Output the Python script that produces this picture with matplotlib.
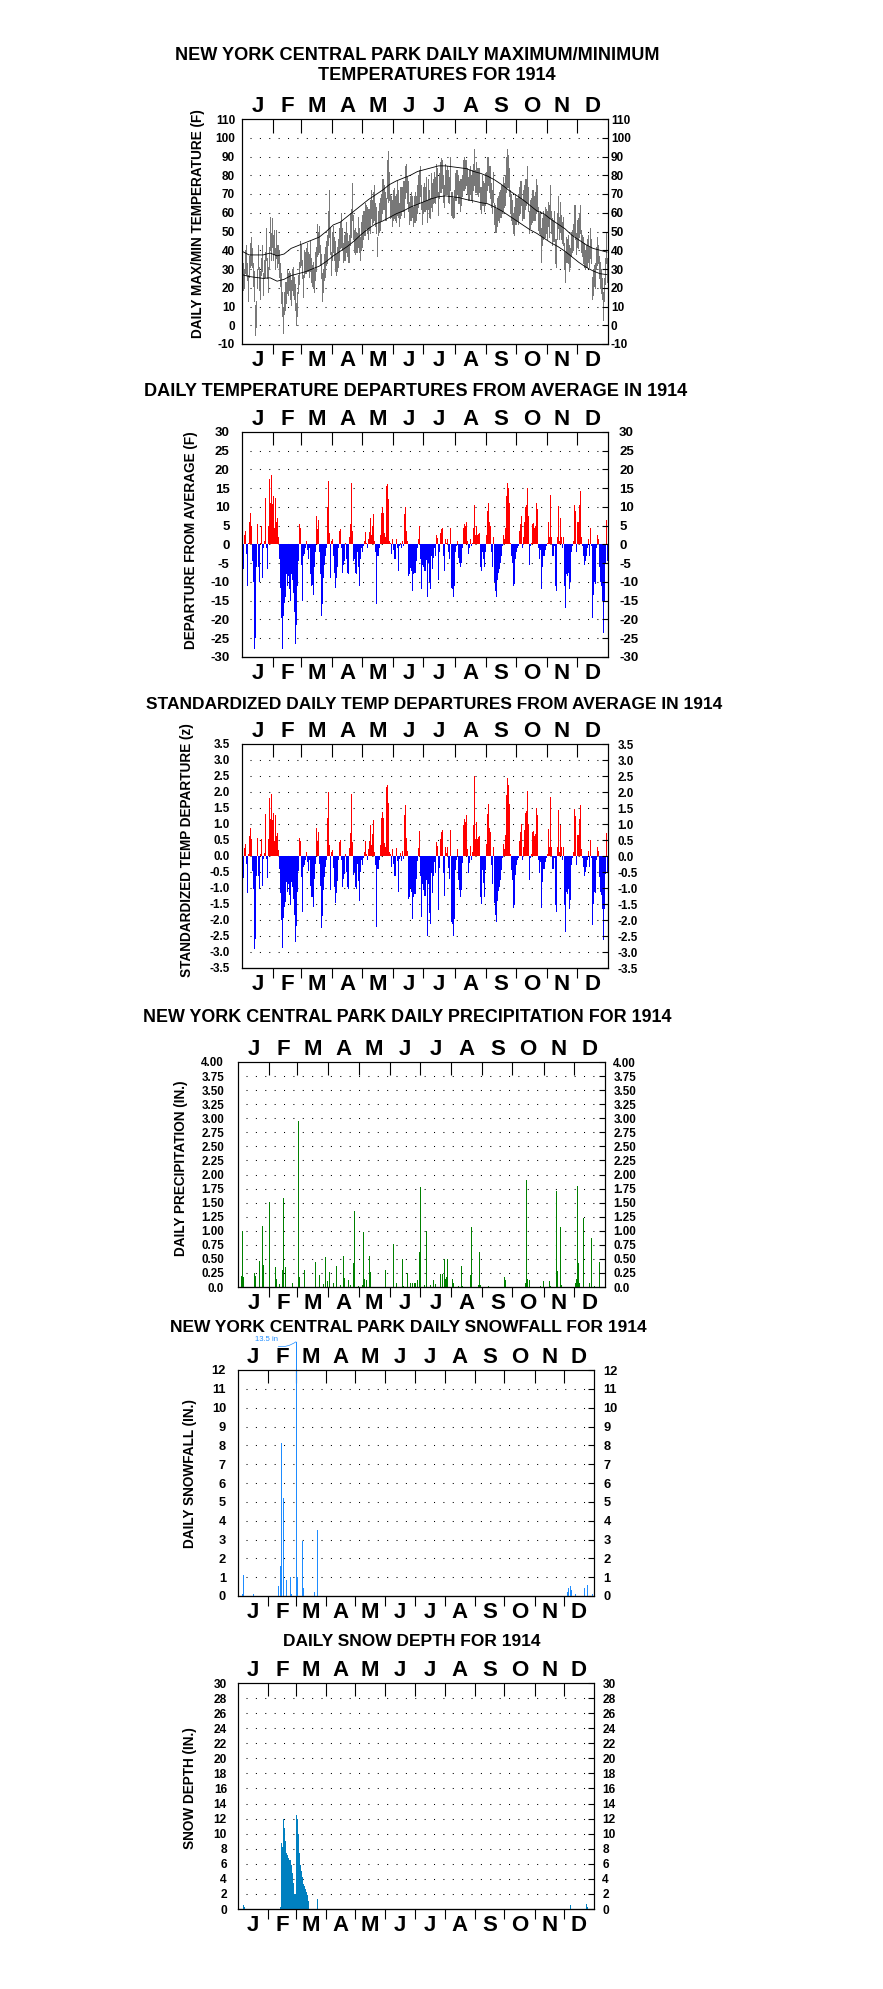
import matplotlib
matplotlib.use("Agg")
import matplotlib.pyplot as plt
import numpy as np

plt.rcParams['font.family'] = ['Liberation Sans', 'DejaVu Sans']

W, H = 883, 1989

month_starts = [0, 31, 59, 90, 120, 151, 181, 212, 243, 273, 304, 334, 365]
month_letters = ["J", "F", "M", "A", "M", "J", "J", "A", "S", "O", "N", "D"]

# daily max / min temperatures (F), Jan 1 .. Dec 31
tmax = [33,30,40,43,33,27,37,44,47,41,33,29,11,13,30,43,31,29,36,43,28,35,39,52,36,31,42,58,49,57,48,
        51,41,51,43,43,40,33,28,18,10,18,23,23,30,28,29,28,24,30,31,26,22,12,18,27,34,45,43,
        35,27,40,39,41,44,39,38,45,36,32,34,30,39,42,54,50,53,43,38,28,30,38,42,45,48,61,72,52,39,50,
        53,47,45,38,42,46,52,55,60,52,44,48,50,55,49,45,48,60,62,76,59,51,52,50,49,58,52,47,55,59,
        61,61,65,64,63,62,62,67,72,67,71,75,65,63,47,61,65,68,70,78,78,75,71,68,88,93,82,70,69,67,72,
        73,69,70,77,72,65,74,74,74,77,77,85,86,79,77,66,69,71,69,63,69,71,69,75,80,83,85,75,66,74,
        76,74,79,67,78,72,68,81,76,78,82,79,86,84,71,81,87,89,88,80,75,86,83,85,83,79,90,71,71,68,72,
        81,83,83,80,77,78,78,80,88,90,88,88,84,79,83,85,80,83,86,94,83,87,84,84,84,74,74,80,77,76,81,
        82,90,90,85,85,76,72,82,65,64,62,68,69,71,72,75,75,79,76,80,90,94,91,84,72,70,67,60,63,70,
        68,68,70,74,77,77,67,72,75,78,78,85,74,61,67,68,72,72,69,71,78,75,63,60,61,52,57,61,59,63,62,
        61,66,64,75,61,57,56,61,46,46,60,69,58,66,59,55,58,44,39,47,46,48,43,41,50,51,54,64,64,49,
        56,57,60,64,51,48,47,44,40,43,46,48,42,52,46,26,30,32,33,42,47,43,37,34,30,25,18,25,36,49,36]
tmin = [19,20,28,27,24,13,26,31,32,31,21,13,-5,-1,20,30,19,14,27,29,16,25,26,35,25,18,30,40,35,42,35,
        38,30,36,31,33,26,21,12,5,-4,6,8,12,17,16,19,14,11,19,16,14,8,0,5,17,22,31,32,
        25,15,26,28,28,29,29,26,29,23,21,20,18,24,29,37,38,39,32,25,13,18,24,26,32,33,43,47,38,27,35,
        39,35,29,27,29,31,35,41,42,40,34,35,35,39,37,34,34,43,47,56,46,39,38,39,39,42,39,35,40,42,
        46,48,48,52,49,46,51,49,57,54,55,56,53,49,37,48,50,51,56,60,62,62,56,56,68,66,67,57,58,53,56,
        57,56,55,59,58,53,57,59,61,61,58,68,71,65,61,54,56,56,58,53,55,55,56,60,63,65,69,62,54,60,
        61,61,62,55,62,58,57,63,61,65,66,65,69,69,59,68,71,71,73,66,63,70,70,70,66,65,72,59,58,57,58,
        67,67,70,65,65,61,64,69,72,72,73,75,70,67,67,70,67,66,72,75,71,71,70,69,71,62,60,64,64,61,64,
        66,72,75,71,68,63,60,66,54,50,50,53,56,55,58,58,60,61,63,64,71,74,74,69,60,56,54,49,48,54,
        54,56,54,59,60,64,56,57,57,62,64,66,61,49,52,54,55,56,56,56,60,61,51,49,48,34,43,46,47,47,49,
        46,53,47,57,49,43,45,45,33,31,46,52,46,50,46,44,43,30,23,34,34,33,29,31,37,39,40,48,46,38,
        42,41,47,49,39,37,33,31,30,31,31,34,31,36,33,14,16,21,20,30,32,33,25,20,17,14,3,13,22,33,23]

# normal max / min, read every 7th day
norm_days = list(range(0, 365, 7))
norm_max = [39.5,37.5,37.5,37.5,38.5,37,38,41,42.5,44,45.5,47,50,53.5,55,58,61,64,67,69.5,72,75,77,78.5,80,82,
            83,84,85,85,84.5,84,83.5,82,81,79.5,77.5,75,72,69.5,67,64,61,59.5,56.5,54,51.5,48,45.5,43,41,40,39]
norm_min = [27,26,25.5,25,25.3,23.5,24.5,26.5,27.5,28.5,30,31.5,34,37,39.5,42,45,48.5,51.5,54,55.5,57.5,59.5,61,63,64.5,
            66,67.5,68.5,69,68.5,68,67,66.3,65.4,64.8,63,61,58.5,56,53.5,51,49,46.5,44,42,39.5,36.5,33.5,31,29,27.5,27]

# departure from average (F)
departure = [-5.5,-6.5,2.5,3.5,-2.5,-11,0.5,6,8.5,5,-4.5,-10,-28,-25,-6,5.5,-6,-10,0.5,5,-9,-1,1,12.5,-1,-6.5,5,17.5,11,18.5,10.8,
             13,4.5,12.5,6,7,2,-4,-11.5,-19.5,-28,-19,-15.5,-14,-8,-11,-8.5,-12,-15,-8,-9.5,-13,-18,-26.5,-21.5,-11,-4.5,5.5,4.5,
             -5.5,-15,-3,-2.5,-1,1,-1.5,-4,-1,-8,-11,-10.8,-13.5,-6,-2,7.5,4,6.5,-2,-8,-19,-16,-9,-5.5,-3,-1,10,17,3,-9,1,
             1.5,-3,-7.5,-11.5,-9,-6,-1,3.5,4,-1,-7.5,-5.5,-4.3,0.5,-4,-7.5,-8,2,5.5,16.5,3.5,-4.5,-4,-7.5,-8,-2,-6,-11,-4,-1,
             -2,-0.5,1,3.3,0.5,-1,1.5,3.3,7,2.5,5,8,1,-2,-16,-3,-3,-1,2.5,8.5,10,8.5,3,2,15.5,16,12,1,0.5,-2.5,1.5,
             -1.5,-4,-4,1.5,-1,-7,-0.5,0.5,-1,1,-0.5,8,10,3.5,1,-8.5,-8,-6.3,-7,-12.5,-8,-7.5,-7.5,-4.5,-1,1.5,5,-4,-12,-5.5,
             -6,-7,-4.2,-14,-5,-10,-12,-3,-6.5,-3.5,-1,-3,2.5,1.8,-9.5,-2,3,4.2,4.5,-3,-7,1.5,0.5,1.5,-2,-4,4.5,-11.5,-12,-14,-11,
             -2,-0.5,1,-3.5,-5,-6,-5,-1,4.5,5.5,5,6,1,-2.5,-1,1.5,-0.5,0.5,4.5,10.5,2.5,5,2.5,2.8,3,-6,-7,-2,-4,-6,-2,
             2.5,9,11,6,5,-2,-6,2,-10,-12.5,-14,-9.5,-7.5,-6.5,-5,-3,-0.5,2.5,1.5,4.5,13,16.5,15,11,0.5,-3,-5,-11,-10.5,-4,
             -2,-1,-0.5,3.5,5.5,7.5,-1,2,6,10,10.5,15,7.5,-5.5,-0.5,0.5,5.5,5.7,4.5,5,11,9.5,-1,-4,-1.5,-12,-6,-3,-3,-1.5,-0.5,
             0.5,6,2,13.3,2,-3,-3,-0.5,-11,-12.5,2,10.3,1,7,2,-1,2,-11,-17,-8,-8.5,-7.5,-12,-10,-2,-0.5,1,10.5,9,-2,
             6,6,10.5,14.3,2,-0.5,-3,-5.5,-4.5,-3,-1,1.5,-3,4.5,-0.5,-19.5,-13.5,-10,-10.5,-1,2.5,1.5,-6,-10,-11,-15,-23.5,-15,-5,6.5,-4.5]

# standardized departure (z)
zscore = [-0.57,-0.68,0.26,0.36,-0.26,-1.15,0.05,0.63,0.89,0.52,-0.47,-1.04,-2.92,-2.6,-0.63,0.57,-0.63,-1.04,0.05,0.52,-0.94,-0.1,0.1,1.3,-0.1,-0.68,0.52,1.82,1.15,1.93,1.13,
          1.33,0.46,1.28,0.61,0.71,0.2,-0.41,-1.17,-1.99,-2.86,-1.94,-1.58,-1.43,-0.82,-1.12,-0.87,-1.22,-1.53,-0.82,-0.97,-1.33,-1.84,-2.7,-2.19,-1.12,-0.46,0.56,0.46,
          -0.65,-1.76,-0.35,-0.29,-0.12,0.12,-0.18,-0.47,-0.12,-0.94,-1.29,-1.27,-1.59,-0.71,-0.24,0.88,0.47,0.76,-0.24,-0.94,-2.24,-1.88,-1.06,-0.65,-0.35,-0.12,1.18,2.0,0.35,-1.06,0.12,
          0.19,-0.38,-0.96,-1.47,-1.15,-0.77,-0.13,0.45,0.51,-0.13,-0.96,-0.71,-0.55,0.06,-0.51,-0.96,-1.03,0.26,0.71,1.95,0.45,-0.58,-0.51,-0.96,-1.03,-0.26,-0.77,-1.41,-0.51,-0.13,
          -0.28,-0.07,0.14,0.46,0.07,-0.14,0.21,0.46,0.97,0.35,0.69,1.11,0.14,-0.28,-2.22,-0.42,-0.42,-0.14,0.35,1.18,1.39,1.18,0.42,0.28,2.15,2.22,1.67,0.14,0.07,-0.35,0.21,
          -0.24,-0.63,-0.63,0.24,-0.16,-1.11,-0.08,0.08,-0.16,0.16,-0.08,1.27,1.59,0.56,0.16,-1.35,-1.27,-1.0,-1.11,-1.98,-1.27,-1.19,-1.19,-0.71,-0.16,0.24,0.79,-0.63,-1.9,-0.87,
          -1.07,-1.25,-0.75,-2.5,-0.89,-1.79,-2.14,-0.54,-1.16,-0.63,-0.18,-0.54,0.45,0.32,-1.7,-0.36,0.54,0.75,0.8,-0.54,-1.25,0.27,0.09,0.27,-0.36,-0.71,0.8,-2.05,-2.14,-2.5,-1.96,
          -0.43,-0.11,0.21,-0.74,-1.06,-1.28,-1.06,-0.21,0.96,1.17,1.06,1.28,0.21,-0.53,-0.21,0.32,-0.11,0.11,0.96,2.5,0.53,1.06,0.53,0.6,0.64,-1.28,-1.49,-0.43,-0.85,-1.28,-0.43,
          0.37,1.32,1.62,0.88,0.74,-0.29,-0.88,0.29,-1.47,-1.84,-2.06,-1.4,-1.1,-0.96,-0.74,-0.44,-0.07,0.37,0.22,0.66,1.91,2.43,2.21,1.62,0.07,-0.44,-0.74,-1.62,-1.54,-0.59,
          -0.27,-0.14,-0.07,0.47,0.74,1.01,-0.14,0.27,0.81,1.35,1.42,2.03,1.01,-0.74,-0.07,0.07,0.74,0.77,0.61,0.68,1.49,1.28,-0.14,-0.54,-0.2,-1.62,-0.81,-0.41,-0.41,-0.2,-0.07,
          0.07,0.83,0.28,1.85,0.28,-0.42,-0.42,-0.07,-1.53,-1.74,0.28,1.43,0.14,0.97,0.28,-0.14,0.28,-1.53,-2.36,-1.11,-1.18,-1.04,-1.67,-1.39,-0.28,-0.07,0.14,1.46,1.25,-0.28,
          0.67,0.67,1.17,1.59,0.22,-0.06,-0.33,-0.61,-0.5,-0.33,-0.11,0.17,-0.33,0.5,-0.06,-2.17,-1.5,-1.11,-1.17,-0.11,0.28,0.17,-0.67,-1.11,-1.22,-1.67,-2.61,-1.67,-0.56,0.72,-0.5]

# precipitation (in.), only days with a value
precip_days = [2,3,4,15,16,20,23,24,30,36,37,40,43,44,46,53,59,60,65,76,80,84,86,88,90,94,97,101,104,105,
               109,111,114,115,119,123,124,125,127,130,131,146,154,157,163,164,168,171,173,175,176,178,180,181,184,186,190,193,195,200,
               202,204,205,206,207,212,213,218,221,222,230,231,238,239,240,248,264,265,285,286,287,289,300,303,309,310,316,317,320,321,
               335,336,337,338,339,343,349,351,354,359]
precip_in = [0.2,1.0,0.17,0.25,0.2,0.47,1.08,0.4,1.52,0.35,0.15,0.05,0.3,1.58,0.35,0.07,2.95,0.17,0.3,0.45,
             0.22,0.06,0.53,0.1,0.27,0.07,0.37,0.03,0.55,0.16,0.13,0.04,0.42,1.35,0.02,0.04,0.97,0.15,0.13,0.55,
             0.27,0.3,0.76,0.08,0.5,0.02,0.25,0.08,0.08,0.07,0.08,0.13,0.62,1.78,0.03,1.0,0.04,0.13,0.06,0.23,
             0.23,0.5,0.15,0.17,0.5,0.15,0.07,0.02,0.37,0.02,0.22,1.06,0.03,0.63,0.04,0.02,0.18,0.13,0.08,1.9,
             0.15,0.12,0.02,0.1,0.11,0.02,1.7,0.28,1.07,0.04,0.07,0.15,1.8,0.42,0.07,1.22,0.08,0.87,0.02,0.45]

# snowfall (in.)
snow_days = [4,5,15,40,43,44,46,49,53,54,59,60,65,66,77,80,337,338,340,341,345,354,357,362]
snow_in = [0.1,1.1,0.1,0.55,1.6,8.1,5.2,0.85,1.0,0.1,13.5,1.0,2.9,0.4,0.2,3.5,0.2,0.4,0.55,0.3,0.1,0.4,0.6,0.1]

# snow depth (in.)
depth_days = [5,6,43,44,45,46,47,48,49,50,51,52,53,54,55,56,57,58,59,60,61,62,63,64,65,66,67,68,69,70,71,72,81,340,357,358]
depth_in = [0.5,0.2,0.3,8.8,8.2,12,10.7,9,7.5,7.2,6.8,6.5,6.5,5.8,4.8,3.5,2,2,12.5,13,
            12,10,7.5,5.8,5,4.2,3.3,3,2.7,2.3,1.8,1,1.3,0.5,0.6,0.3]

days = np.arange(365)

fig = plt.figure(figsize=(W / 100, H / 100), dpi=100)


def make_panel(box, ymin, ymax, step, labels, fs, lpad, rpad, ylabel, ylab_x, ylab_y, top_len=9.5):
    x0, y0, x1, y1 = box
    ax = fig.add_axes([x0 / W, 1 - y1 / H, (x1 - x0) / W, (y1 - y0) / H])
    ticks = np.arange(ymin, ymax + step / 2, step)

    # right side labels on a twin axis so the pad can differ
    ax2 = ax.twinx()
    ax2.set_ylim(ymin, ymax)
    ax2.set_yticks(ticks)
    ax2.set_yticklabels(labels, fontsize=fs, fontweight="bold")
    ax2.tick_params(axis="y", direction="in", length=4, width=0.8, pad=rpad)

    ax.set_xlim(0, 365)
    ax.set_ylim(ymin, ymax)
    ax.set_yticks(ticks)
    ax.set_yticklabels(labels, fontsize=fs, fontweight="bold")
    ax.tick_params(axis="y", left=False, right=False, length=0, pad=lpad)

    # dotted grid
    for t in ticks[1:-1]:
        ax.axhline(t, xmin=8 / (x1 - x0), color="black", lw=0.75, ls=(0, (1, 8)), zorder=0)

    # month ticks, inside on top, outside on the bottom
    ax.set_xticks(month_starts[1:-1])
    ax.tick_params(axis="x", bottom=False, top=True, direction="in", length=top_len, width=0.8,
                   labelbottom=False, labeltop=False)
    sec = ax.secondary_xaxis("bottom")
    sec.set_xticks(month_starts[1:-1])
    sec.tick_params(direction="out", length=7.5, width=0.8, labelbottom=False)

    for sp in list(ax.spines.values()) + list(ax2.spines.values()):
        sp.set_linewidth(0.8)

    for i, m in enumerate(month_letters):
        mid = (month_starts[i] + month_starts[i + 1]) / 2
        ax.annotate(m, xy=(mid, 1), xycoords=("data", "axes fraction"), xytext=(0, 5),
                    textcoords="offset points", ha="center", va="baseline", fontsize=16, fontweight="bold")
        ax.annotate(m, xy=(mid, 0), xycoords=("data", "axes fraction"), xytext=(0, -4.5),
                    textcoords="offset points", ha="center", va="top", fontsize=16, fontweight="bold")

    fig.text(ylab_x / W, 1 - ylab_y / H, ylabel, rotation=90, ha="center", va="center",
             fontsize=9.8, fontweight="bold")
    return ax


def title(text, x, y, fs=12.5):
    fig.text(x / W, 1 - y / H, text, ha="center", va="center", fontsize=fs, fontweight="bold")


# 1. daily max/min temperatures
ax = make_panel((242, 119, 608, 344), -10, 110, 10, [str(v) for v in range(-10, 111, 10)], 8.5, 5, 2,
                "DAILY MAX/MIN TEMPERATURE (F)", 198, 224, top_len=10)
ax.vlines(days + 0.5, tmin, tmax, color="#787878", lw=0.5, antialiased=False)
ax.plot(norm_days, norm_max, color="black", lw=0.6)
ax.plot(norm_days, norm_min, color="black", lw=0.6)
title("NEW YORK CENTRAL PARK DAILY MAXIMUM/MINIMUM", 417, 56, 13.1)
title("TEMPERATURES FOR 1914", 437, 76, 13.1)

# 2. departures
ax = make_panel((242, 432, 608, 657), -30, 30, 5, [str(v) for v in range(-30, 31, 5)], 9.5, 9, 8,
                "DEPARTURE FROM AVERAGE (F)", 191, 540)
ax.bar(days, departure, width=1.0, align="edge", linewidth=0, antialiased=False,
       color=["#FF0000" if v > 0 else "#0000FF" for v in departure])
title("DAILY TEMPERATURE DEPARTURES FROM AVERAGE IN 1914", 416, 392, 13.1)

# 3. standardized departures
ax = make_panel((242, 744, 608, 968), -3.5, 3.5, 0.5, ["%.1f" % v for v in np.arange(-3.5, 3.51, 0.5)], 8.4, 9, 7,
                "STANDARDIZED TEMP DEPARTURE (z)", 187, 850)
ax.bar(days, zscore, width=1.0, align="edge", linewidth=0, antialiased=False,
       color=["#FF0000" if v > 0 else "#0000FF" for v in zscore])
title("STANDARDIZED DAILY TEMP DEPARTURES FROM AVERAGE IN 1914", 434, 704)

# 4. precipitation
plabels = ["0.0"] + ["%.2f" % v for v in np.arange(0.25, 4.01, 0.25)]
ax = make_panel((238, 1062, 605, 1287), 0, 4, 0.25, plabels, 8.4, 10, 6,
                "DAILY PRECIPITATION (IN.)", 181, 1168)
ax.vlines(np.array(precip_days) + 0.5, 0, precip_in, color="#008000", lw=0.5, antialiased=False)
title("NEW YORK CENTRAL PARK DAILY PRECIPITATION FOR 1914", 407, 1018, 12.9)

# 5. snowfall
ax = make_panel((238, 1370, 594, 1596), 0, 12, 1, [str(v) for v in range(0, 13)], 9.3, 8.6, 7,
                "DAILY SNOWFALL (IN.)", 190, 1474)
ax.vlines(np.array(snow_days) + 0.5, 0, snow_in, color="#1E8CFF", lw=0.5, antialiased=False, clip_on=False)
big = snow_in.index(max(snow_in))
ax.annotate("%.1f in" % snow_in[big], xy=(snow_days[big] + 0.5, snow_in[big]), xytext=(-13, 1.5),
            textcoords="offset points", ha="right", va="center", fontsize=5.5, color="#1E8CFF",
            annotation_clip=False,
            arrowprops=dict(arrowstyle="-", color="#1E8CFF", lw=0.5, shrinkA=1, shrinkB=0,
                            connectionstyle="arc3,rad=0.4"))
title("NEW YORK CENTRAL PARK DAILY SNOWFALL FOR 1914", 408, 1327)

# 6. snow depth
ax = make_panel((238, 1683, 594, 1909), 0, 30, 2, [str(v) for v in range(0, 31, 2)], 8.6, 8, 6,
                "SNOW DEPTH (IN.)", 190, 1788)
ax.bar(depth_days, depth_in, width=1.0, align="edge", linewidth=0, antialiased=False, color="#0080C0")
title("DAILY SNOW DEPTH FOR 1914", 412, 1641)

fig.savefig("out.png", dpi=100)
